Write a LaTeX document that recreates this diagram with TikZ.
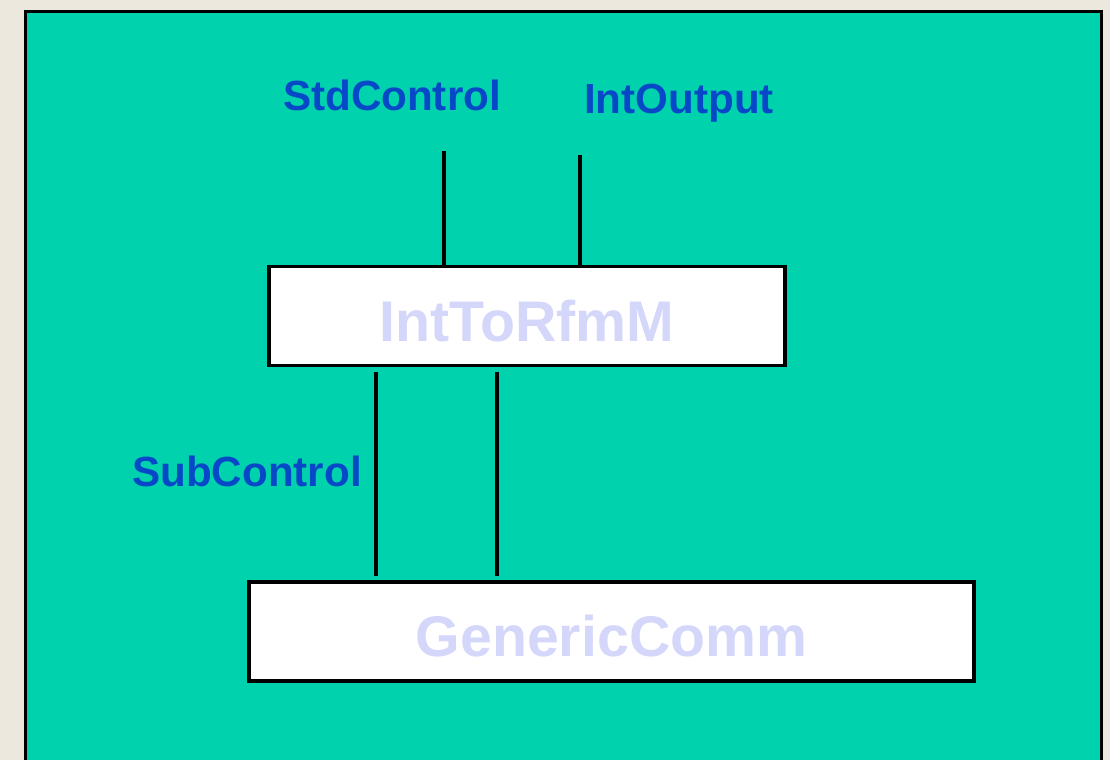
\documentclass[tikz,border=0pt]{standalone}
\usepackage{fontspec}
\setmainfont{Liberation Sans}
\usetikzlibrary{positioning}

\definecolor{paper}{RGB}{236,232,222}
\definecolor{panel}{RGB}{0,210,173}
\definecolor{portblue}{RGB}{6,72,200}
\definecolor{modtext}{RGB}{212,215,250}

\tikzset{
  wire/.style={
    draw,
    line width=2pt,
    black
  },
  module/.style={
    draw,
    fill=white,
    line width=1.8pt,
    inner sep=0pt,
    text=modtext,
    text height=1.02cm,
    text depth=0pt,
    font=\fontsize{32.6}{36}\selectfont\bfseries
  },
  port/.style={
    text=portblue,
    inner sep=0pt,
    anchor=base,
    font=\fontsize{24}{28}\selectfont\bfseries
  }
}

\begin{document}
\begin{tikzpicture}[x=0.02cm,y=-0.02cm]
  \useasboundingbox[fill=paper] (0,0) rectangle (1110,760);
  \begin{scope}
    \clip (0,0) rectangle (1110,760);
    \draw[fill=panel,line width=2pt] (25.5,11.5) rectangle (1101.5,790);
  \end{scope}

  % the two components
  \node[module,minimum width=10.32cm,minimum height=1.98cm] (ifm) at (527,316) {IntToRfmM};
  \node[module,minimum width=14.5cm,minimum height=1.98cm] (gc) at (611.5,631.5) {GenericComm};

  % interface names
  \node[port] (std) at (392,111) {StdControl};
  \node[port] (out) at (679,114) {IntOutput};
  \node[port] (sub) at (247,486) {SubControl};

  % wires
  \coordinate (stdend) at (444,151);
  \coordinate (outend) at (580,155);
  \coordinate (subx) at (376,0);
  \coordinate (commx) at (497,0);

  \draw[wire] (stdend) -- (stdend |- ifm.north);
  \draw[wire] (outend) -- ([yshift=-2pt]outend |- ifm.north);
  \draw[wire,shorten <=2.6pt,shorten >=2.8pt] (ifm.south -| subx) -- (gc.north -| subx);
  \draw[wire,shorten <=2.6pt,shorten >=2.8pt] (ifm.south -| commx) -- (gc.north -| commx);
\end{tikzpicture}
\end{document}
